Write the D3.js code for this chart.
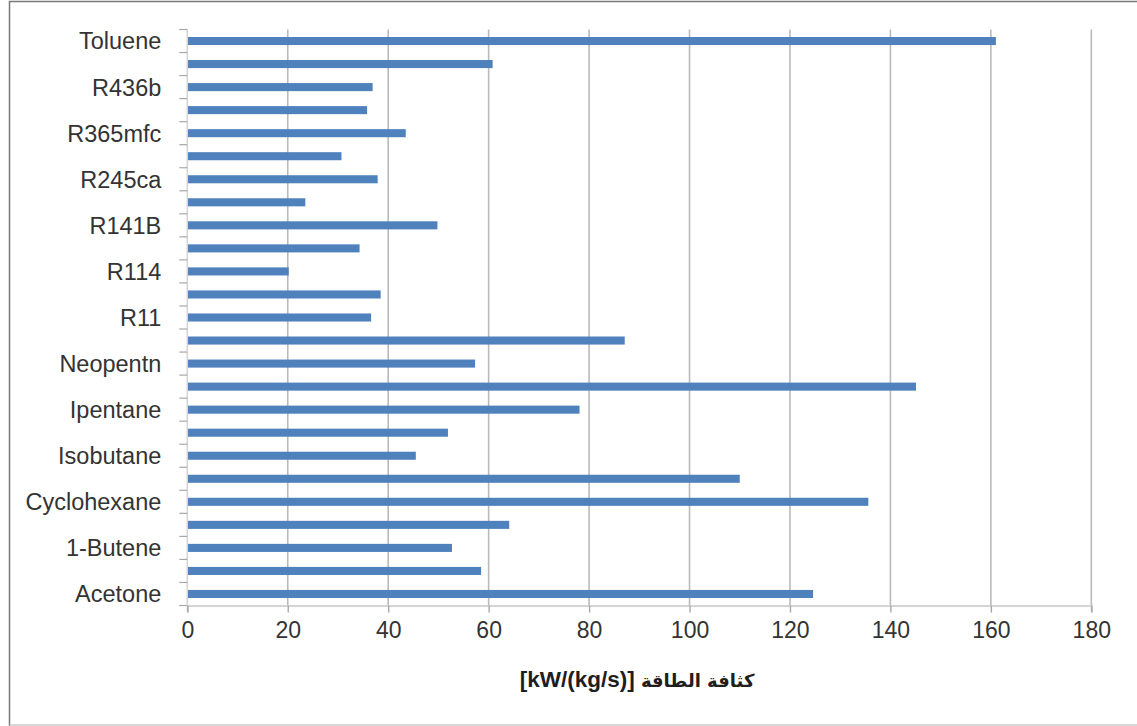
<!DOCTYPE html>
<html>
<head>
<meta charset="utf-8">
<script src="https://cdn.jsdelivr.net/npm/d3@7"></script>
<style>
  html, body { margin: 0; padding: 0; background: #fff; }
  svg { display: block; }
</style>
</head>
<body>
<script>
// Fluids, listed from the bottom of the chart upward; unlabeled rows are blank
const categories = [
  "Acetone", "", "1-Butene", "", "Cyclohexane", "", "Isobutane", "",
  "Ipentane", "", "Neopentn", "", "R11", "", "R114", "", "R141B", "",
  "R245ca", "", "R365mfc", "", "R436b", "", "Toluene"
];
// Power density, kW/(kg/s)
const values = [
  124.6, 58.5, 52.7, 64.1, 135.6, 110.0, 45.5, 51.9,
  78.1, 145.1, 57.3, 87.1, 36.6, 38.5, 20.2, 34.3, 49.8,
  23.5, 37.9, 30.7, 43.5, 35.8, 36.9, 60.8, 161.0
];
const xTicks = [0, 20, 40, 60, 80, 100, 120, 140, 160, 180];
const titleUnit = "[kW/(kg/s)] ";
const titleName = "كثافة الطاقة";

const W = 1137, H = 726;
const margin = { left: 187.3, right: W - 1091.3, top: 29.5, bottom: H - 605.5 };
const fontFamily = "'Liberation Sans', Arial, sans-serif";
const textColor = "#333";

const svg = d3.select("body").append("svg")
  .attr("width", W).attr("height", H);

// chart-area frame (left, top, bottom edges)
svg.append("path")
  .attr("d", `M9.5,${H} V1.5 H${W}`)
  .attr("fill", "none").attr("stroke", "#7a7a7a").attr("stroke-width", 1.5);
svg.append("line")
  .attr("x1", 9.5).attr("x2", W).attr("y1", H - 1).attr("y2", H - 1)
  .attr("stroke", "#c8c8c8").attr("stroke-width", 1.5);

const x = d3.scaleLinear().domain([0, 180]).range([margin.left, W - margin.right]);
const idx = d3.range(categories.length);
// slots for tick marks, and padded bands for bars
const ySlot = d3.scaleBand().domain(idx).range([H - margin.bottom, margin.top]).padding(0);
const y = d3.scaleBand().domain(idx).range([H - margin.bottom, margin.top])
  .paddingInner(0.65).paddingOuter(0.325);

// vertical gridlines
svg.append("g").selectAll("line")
  .data(xTicks.filter(t => t > 0))
  .join("line")
  .attr("x1", d => x(d)).attr("x2", d => x(d))
  .attr("y1", margin.top).attr("y2", H - margin.bottom)
  .attr("stroke", "#bababa").attr("stroke-width", 1.6);

// bars
svg.append("g").selectAll("rect")
  .data(values)
  .join("rect")
  .attr("x", x(0))
  .attr("y", (d, i) => y(i))
  .attr("width", d => x(d) - x(0))
  .attr("height", y.bandwidth())
  .attr("fill", "#4f81bd");

// category axis: tick marks on slot boundaries
const boundaries = idx.map(i => ySlot(i) + ySlot.bandwidth()).concat([margin.top]);
const yAxisG = svg.append("g");
yAxisG.append("line")
  .attr("x1", x(0)).attr("x2", x(0))
  .attr("y1", margin.top).attr("y2", H - margin.bottom)
  .attr("stroke", "#d4d4d4").attr("stroke-width", 1.5);
yAxisG.selectAll("line.tick")
  .data(boundaries)
  .join("line").attr("class", "tick")
  .attr("x1", x(0) - 8).attr("x2", x(0))
  .attr("y1", d => d).attr("y2", d => d)
  .attr("stroke", "#a8a8a8").attr("stroke-width", 1.2);
yAxisG.selectAll("text")
  .data(idx.filter(i => categories[i] !== ""))
  .join("text")
  .attr("x", x(0) - 26)
  .attr("y", i => ySlot(i) + ySlot.bandwidth() / 2)
  .attr("dy", "0.36em")
  .attr("text-anchor", "end")
  .attr("font-family", fontFamily)
  .attr("font-size", 23.5)
  .attr("fill", textColor)
  .text(i => categories[i]);

// value axis
const xAxis = d3.axisBottom(x).tickValues(xTicks).tickSize(7).tickPadding(9)
  .tickFormat(d3.format("d"));
const xAxisG = svg.append("g")
  .attr("transform", `translate(0,${H - margin.bottom})`)
  .call(xAxis);
xAxisG.select(".domain").attr("stroke", "#d4d4d4").attr("stroke-width", 2.2);
xAxisG.selectAll(".tick line").attr("stroke", "#a8a8a8").attr("stroke-width", 1.4);
xAxisG.selectAll(".tick text")
  .attr("font-family", fontFamily)
  .attr("font-size", 23)
  .attr("fill", textColor);

// axis title: unit in Latin, name in Arabic
const title = svg.append("text")
  .attr("x", 637)
  .attr("y", 687)
  .attr("text-anchor", "middle")
  .attr("direction", "ltr")
  .attr("font-weight", "bold")
  .attr("fill", "#1e1e1e");
title.append("tspan")
  .attr("font-family", fontFamily)
  .attr("font-size", 22.5)
  .text(titleUnit);
title.append("tspan")
  .attr("font-family", "'DejaVu Sans', sans-serif")
  .attr("font-size", 18)
  .text(titleName);
</script>
</body>
</html>
